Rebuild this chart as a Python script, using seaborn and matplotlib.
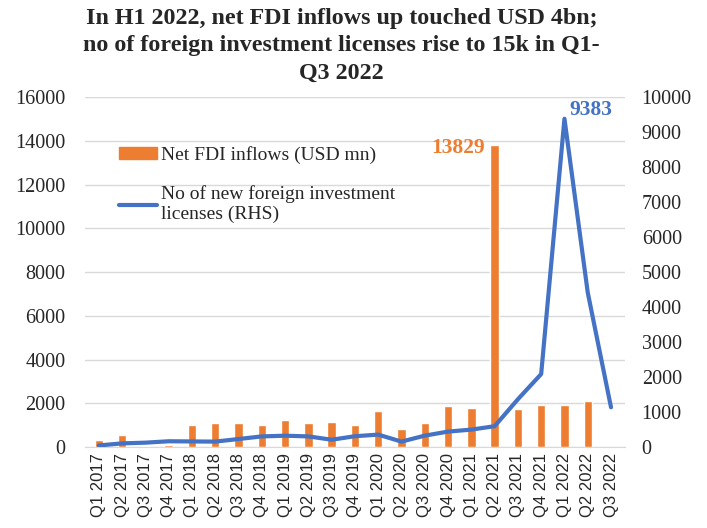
import numpy as np
import pandas as pd
import seaborn as sns
import matplotlib.pyplot as plt
from matplotlib.patches import Patch
from matplotlib.lines import Line2D

quarters = ['Q1 2017', 'Q2 2017', 'Q3 2017', 'Q4 2017',
            'Q1 2018', 'Q2 2018', 'Q3 2018', 'Q4 2018',
            'Q1 2019', 'Q2 2019', 'Q3 2019', 'Q4 2019',
            'Q1 2020', 'Q2 2020', 'Q3 2020', 'Q4 2020',
            'Q1 2021', 'Q2 2021', 'Q3 2021', 'Q4 2021',
            'Q1 2022', 'Q2 2022', 'Q3 2022']
fdi = [330, 560, 60, 100, 1020, 1110, 1110, 1020, 1250, 1110, 1175, 1030,
       1650, 820, 1120, 1880, 1800, 13829, 1730, 1950, 1950, 2100, np.nan]
licenses = [50, 110, 130, 170, 165, 160, 234, 309, 329, 309, 214, 314,
            360, 160, 331, 446, 503, 600, 1370, 2090, 9383, 4420, 1140]

ORANGE = '#ED7D31'
BLUE = '#4472C4'
SERIF = 'Liberation Serif'

df = pd.DataFrame({'quarter': quarters, 'fdi': fdi, 'licenses': licenses})
df['pos'] = np.arange(len(df))

sns.set_style('white')
plt.rcParams['font.family'] = [SERIF, 'DejaVu Serif']

fig = plt.figure(figsize=(7.07, 5.28), dpi=100)
ax = fig.add_axes([0.12, 0.153, 0.764, 0.663])

sns.barplot(data=df, x='quarter', y='fdi', color=ORANGE, width=0.36,
            saturation=1, ax=ax, zorder=3)
ax.set_ylim(0, 16000)
ax.set_yticks(range(0, 16001, 2000))
ax.yaxis.grid(True, color='#D9D9D9', linewidth=1, zorder=0)
ax.set_axisbelow(True)
ax.set_xlabel('')
ax.set_ylabel('')
ax.tick_params(axis='y', labelsize=14.5, length=0, pad=14)
ax.tick_params(axis='x', length=0, pad=4)
for lab in ax.get_xticklabels():
    lab.set_rotation(90)
    lab.set_fontfamily('Liberation Sans')
    lab.set_fontsize(12)
for s in ['top', 'right', 'left']:
    ax.spines[s].set_visible(False)
ax.spines['bottom'].set_color('#D9D9D9')
ax.set_xlim(-0.6, len(df) - 0.4)

ax2 = ax.twinx()
sns.lineplot(data=df, x='pos', y='licenses', color=BLUE, linewidth=3,
             ax=ax2, zorder=4)
ax2.set_ylim(0, 10000)
ax2.set_yticks(range(0, 10001, 1000))
ax2.set_ylabel('')
ax2.tick_params(axis='y', labelsize=14.5, length=0, pad=12)
for s in ax2.spines.values():
    s.set_visible(False)
ax2.set_xlim(-0.6, len(df) - 0.4)

# data labels
i_fdi = int(np.nanargmax(df['fdi']))
ax.text(i_fdi - 0.4, df['fdi'][i_fdi] - 150, f"{int(df['fdi'][i_fdi])}",
        color=ORANGE, fontweight='bold', fontsize=15.5, ha='right', va='center')
i_lic = int(np.argmax(df['licenses']))
ax2.text(i_lic + 0.2, df['licenses'][i_lic] - 30, f"{df['licenses'][i_lic]}",
         color=BLUE, fontweight='bold', fontsize=15.5, ha='left', va='bottom')

handles = [Patch(color=ORANGE),
           Line2D([], [], color=BLUE, linewidth=3)]
labels = ['Net FDI inflows (USD mn)',
          'No of new foreign investment\nlicenses (RHS)']
ax.legend(handles, labels, loc='upper left', bbox_to_anchor=(0.03, 0.91),
          frameon=False, fontsize=14, handlelength=2.0, handleheight=0.55,
          labelspacing=1.1, handletextpad=0.2)

fig.text(0.483, 0.985,
         'In H1 2022, net FDI inflows up touched USD 4bn;\n'
         'no of foreign investment licenses rise to 15k in Q1-\nQ3 2022',
         ha='center', va='top', fontsize=17.3, fontweight='bold',
         linespacing=1.4)

fig.savefig('out.png', dpi=100)
